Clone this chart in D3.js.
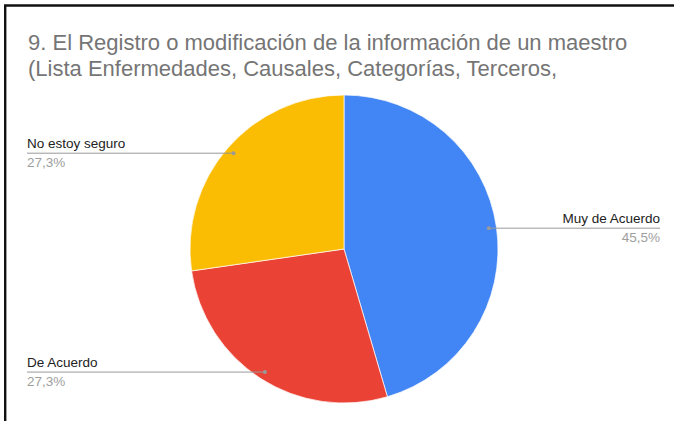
<!DOCTYPE html>
<html>
<head>
<meta charset="utf-8">
<script src="https://cdn.jsdelivr.net/npm/d3@7"></script>
<style>
  body { margin: 0; background: #fff; }
  svg { display: block; font-family: "Liberation Sans", Arial, sans-serif; }
</style>
</head>
<body>
<div id="chart"></div>
<script>
// data (11 answers)
var categories = ["Muy de Acuerdo", "De Acuerdo", "No estoy seguro"];
var counts = [5, 3, 3];
var colors = ["#4285f4", "#ea4335", "#fbbc04"];
var titleLines = [
  "9. El Registro o modificación de la información de un maestro",
  "(Lista Enfermedades, Causales, Categorías, Terceros,"
];

var svgWidth = 674;
var svgHeight = 421;

var svg = d3.select("#chart")
  .append("svg")
  .attr("width", svgWidth)
  .attr("height", svgHeight);

// frame: only top and left edges are visible in the crop
svg.append("path")
  .attr("d", "M5.2," + svgHeight + "V5.5H" + svgWidth)
  .attr("fill", "none")
  .attr("stroke", "#111")
  .attr("stroke-width", 2.4);

// title
svg.append("g").selectAll("text")
  .data(titleLines)
  .enter().append("text")
  .attr("x", 28)
  .attr("y", function(d, i) { return 50 + i * 25.5; })
  .attr("font-size", "22px")
  .attr("fill", "#757575")
  .text(function(d) { return d; });

var cx = 344, cy = 249, radius = 154;
var total = d3.sum(counts);

var pie = d3.pie().sort(null).value(function(d) { return d; });
var arcs = pie(counts);

var arc = d3.arc().innerRadius(0).outerRadius(radius);
var pieGroup = svg.append("g").attr("transform", `translate(${cx},${cy})`);

pieGroup.selectAll("path")
  .data(arcs)
  .enter().append("path")
  .attr("d", arc)
  .attr("fill", function(d, i) { return colors[i]; })
  .attr("stroke", "#fff")
  .attr("stroke-width", 0.7);

var fmt = function(v) {
  return (Math.round(v / total * 1000) / 10).toFixed(1).replace(".", ",") + "%";
};

// leader lines + labels
var leftX = 27, rightX = 660;
arcs.forEach(function(d, i) {
  var mid = (d.startAngle + d.endAngle) / 2;
  var px = cx + radius * 0.95 * Math.sin(mid);
  var py = cy - radius * 0.95 * Math.cos(mid);
  var right = Math.sin(mid) > 0;
  var endX = right ? rightX : leftX;
  var g = svg.append("g");

  g.append("line")
    .attr("x1", px).attr("y1", py)
    .attr("x2", endX).attr("y2", py)
    .attr("stroke", "#999")
    .attr("stroke-width", 1);
  g.append("circle")
    .attr("cx", px).attr("cy", py).attr("r", 2)
    .attr("fill", "#999");

  g.append("text")
    .attr("x", endX)
    .attr("y", py - 5)
    .attr("text-anchor", right ? "end" : "start")
    .attr("font-size", "13.5px")
    .attr("fill", "#222")
    .text(categories[i]);
  g.append("text")
    .attr("x", endX)
    .attr("y", py + 13.5)
    .attr("text-anchor", right ? "end" : "start")
    .attr("font-size", "13.5px")
    .attr("fill", "#9e9e9e")
    .text(fmt(d.value));
});
</script>
</body>
</html>
